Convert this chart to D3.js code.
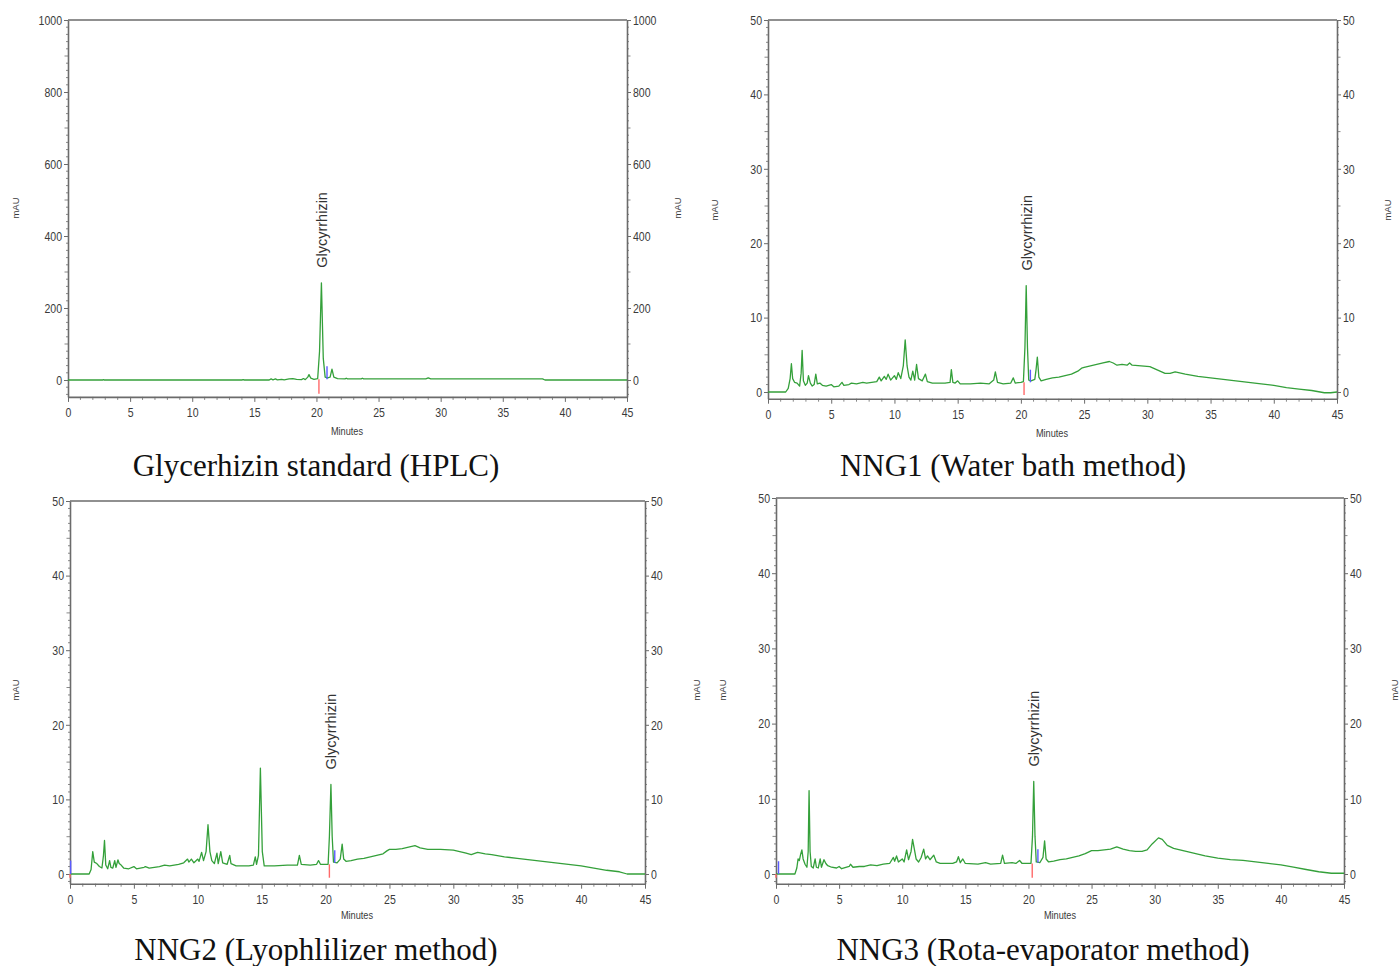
<!DOCTYPE html>
<html><head><meta charset="utf-8">
<script src="https://cdn.jsdelivr.net/npm/d3@7"></script>
<style>body{margin:0;background:#fff} svg{display:block}</style>
</head><body>
<svg id="c" width="1400" height="966"></svg>
<script>
// ---------- DATA ----------
const xTicks = [0,5,10,15,20,25,30,35,40,45];
const stdYTicks = [0,200,400,600,800,1000];
const sampleYTicks = [0,10,20,30,40,50];
const captions = ["Glycerhizin standard (HPLC)","NNG1 (Water bath method)","NNG2 (Lyophlilizer method)","NNG3 (Rota-evaporator method)"];
const peakLabel = "Glycyrrhizin";
const xLabel = "Minutes";
const yLabel = "mAU";

// [minutes, mAU]
const stdTrace = [[0,0],[2.8,0],[2.85,0.8],[2.9,0],[14,0],[14.1,0.8],[14.2,0],[16.2,0],[16.35,3],[16.5,0.5],[16.7,3],[16.85,0.5],[17.2,2],[17.4,0.5],[17.8,3],[18.1,4],[18.4,2],[18.8,1],[18.95,4],[19.1,1],[19.3,8],[19.4,15],[19.55,5],[19.8,2],[20.1,4],[20.25,80],[20.4,270],[20.55,60],[20.7,8],[20.9,6],[21.1,8],[21.25,30],[21.4,8],[21.7,4],[22.3,3],[22.4,5],[22.5,3],[23.6,3],[23.7,5],[23.8,3],[28.8,3],[29.0,6],[29.2,3],[38.2,3],[38.4,0],[45,0]];

const nng1Trace = [[0,0],[1.4,0],[1.6,0.5],[1.75,1.8],[1.85,3.8],[1.95,1.8],[2.1,1.3],[2.3,1.2],[2.5,0.8],[2.62,2.5],[2.7,5.6],[2.8,1.5],[2.95,0.9],[3.1,1.2],[3.2,2.2],[3.35,1.2],[3.5,0.8],[3.65,1.0],[3.78,2.4],[3.9,1.1],[4.1,1.2],[4.3,0.9],[4.6,0.8],[5.0,1.0],[5.2,0.7],[5.6,0.8],[5.85,1.3],[6.0,0.9],[6.4,1.0],[6.6,1.2],[7.0,1.1],[7.5,1.3],[7.8,1.2],[8.2,1.3],[8.6,1.4],[8.8,2.0],[8.95,1.5],[9.2,2.1],[9.35,1.7],[9.5,2.4],[9.7,1.6],[10.0,2.2],[10.15,1.7],[10.3,2.6],[10.5,1.8],[10.7,3.5],[10.85,7.0],[11.0,3.5],[11.15,2.0],[11.3,1.6],[11.45,2.8],[11.6,1.6],[11.75,3.7],[11.9,1.8],[12.2,1.5],[12.45,2.4],[12.6,1.4],[13.0,1.2],[14.0,1.2],[14.4,1.3],[14.5,3.0],[14.62,1.3],[14.8,1.2],[15,1.5],[15.2,1.1],[16,1.1],[16.8,1.2],[17.5,1.1],[17.85,1.6],[17.98,2.7],[18.15,1.3],[18.6,1.1],[19.2,1.2],[19.4,1.9],[19.55,1.2],[20.0,1.3],[20.2,1.4],[20.32,6],[20.42,14.3],[20.52,6],[20.62,1.6],[20.8,1.5],[21.1,1.7],[21.2,3.0],[21.3,4.7],[21.42,2.0],[21.6,1.5],[22,1.7],[22.5,1.9],[23,2.0],[23.5,2.2],[24,2.4],[24.5,2.8],[24.8,3.2],[25,3.3],[25.5,3.5],[26,3.7],[26.5,3.9],[27,4.1],[27.3,3.9],[27.6,3.6],[28,3.7],[28.4,3.6],[28.6,3.9],[28.8,3.6],[29.5,3.5],[30.2,3.4],[30.6,3.1],[31,2.8],[31.4,2.5],[31.8,2.5],[32.2,2.7],[33,2.4],[34,2.1],[35,1.9],[36,1.7],[37,1.5],[38,1.3],[39,1.1],[40,0.9],[41,0.6],[42,0.4],[43,0.2],[44,-0.1],[44.5,-0.1],[45,0]];

const nng2Trace = [[0,0],[1.5,0],[1.65,0.6],[1.78,3.0],[1.9,1.6],[2.1,1.4],[2.3,1.0],[2.5,0.8],[2.62,2.5],[2.7,4.5],[2.8,1.2],[2.95,0.7],[3.1,1.8],[3.2,0.9],[3.35,0.8],[3.5,1.8],[3.6,0.9],[3.75,1.9],[3.85,1.4],[4.0,1.2],[4.2,0.8],[4.6,0.7],[5.0,1.0],[5.2,0.7],[5.8,0.9],[5.9,1.0],[6.2,0.8],[6.6,0.9],[7.0,1.0],[7.4,1.2],[7.8,1.1],[8.5,1.3],[8.9,1.5],[9.2,2.0],[9.3,1.6],[9.5,2.0],[9.7,1.5],[10.0,2.0],[10.1,1.7],[10.3,2.9],[10.45,1.8],[10.65,3.0],[10.8,6.6],[10.95,3.0],[11.1,1.8],[11.3,1.4],[11.5,2.8],[11.6,1.4],[11.8,3.0],[11.95,1.5],[12.3,1.3],[12.5,2.5],[12.6,1.4],[13,1.1],[14,1.1],[14.35,1.2],[14.5,2.3],[14.6,1.3],[14.75,2.5],[14.9,14.2],[15.05,3.0],[15.2,1.1],[16,1.1],[17,1.2],[17.8,1.2],[17.95,2.5],[18.1,1.3],[18.8,1.2],[19.3,1.3],[19.45,1.8],[19.6,1.3],[20.0,1.3],[20.2,1.3],[20.3,5.0],[20.42,12.0],[20.52,5.0],[20.62,1.6],[20.9,1.5],[21.15,2.0],[21.3,4.0],[21.42,2.0],[21.6,1.7],[22,1.8],[22.5,2.0],[23,2.1],[23.5,2.3],[24,2.5],[24.5,2.7],[24.8,3.1],[25,3.3],[25.5,3.3],[26,3.4],[26.5,3.6],[27,3.8],[27.4,3.5],[28,3.3],[29,3.3],[30,3.2],[30.5,3.0],[31,2.8],[31.4,2.6],[31.9,2.9],[32.5,2.7],[33,2.6],[34,2.3],[35,2.1],[36,1.9],[37,1.7],[38,1.5],[39,1.3],[40,1.1],[41,0.8],[42,0.5],[43,0.3],[43.6,0],[45,0]];

const nng3Trace = [[0,0],[1.5,0],[1.65,0.8],[1.75,2.0],[1.85,1.8],[1.95,2.6],[2.05,3.2],[2.15,2.0],[2.3,1.3],[2.45,0.9],[2.55,3.0],[2.62,11.1],[2.7,3.0],[2.8,1.0],[2.95,0.8],[3.1,2.0],[3.2,0.9],[3.35,0.8],[3.5,2.0],[3.6,0.9],[3.8,1.9],[3.95,1.4],[4.1,1.1],[4.4,0.9],[4.8,0.8],[5.0,1.0],[5.2,0.7],[5.8,1.0],[5.9,1.3],[6.1,0.9],[6.6,1.0],[7.0,1.0],[7.5,1.2],[8.0,1.1],[8.5,1.3],[9.0,1.4],[9.3,2.2],[9.4,1.7],[9.55,2.4],[9.7,1.6],[10.0,2.0],[10.15,1.6],[10.35,3.2],[10.5,1.9],[10.7,3.0],[10.82,4.6],[10.95,3.4],[11.1,2.0],[11.3,1.6],[11.5,2.2],[11.7,3.3],[11.85,2.0],[12.0,2.4],[12.2,1.9],[12.5,2.5],[12.7,1.6],[13,1.4],[14,1.4],[14.3,1.6],[14.45,2.3],[14.6,1.5],[14.8,2.0],[15,1.4],[16,1.3],[16.6,1.5],[17,1.3],[17.8,1.4],[17.95,2.5],[18.1,1.4],[18.7,1.5],[19.0,1.4],[19.3,1.8],[19.5,1.4],[20.0,1.4],[20.2,1.4],[20.32,5.0],[20.42,12.3],[20.52,5.0],[20.62,1.6],[20.9,1.5],[21.15,2.2],[21.28,4.4],[21.4,2.0],[21.6,1.6],[22,1.7],[22.5,1.9],[23,2.0],[23.5,2.2],[24,2.4],[24.5,2.7],[25,3.1],[25.5,3.1],[26,3.2],[26.5,3.3],[27,3.6],[27.5,3.3],[28,3.1],[28.5,3.0],[29,3.0],[29.4,3.2],[29.8,4.0],[30.3,4.8],[30.6,4.6],[31,3.8],[31.5,3.4],[32,3.2],[33,2.8],[34,2.4],[35,2.1],[36,1.9],[37,1.8],[38,1.6],[39,1.4],[40,1.2],[41,0.9],[42,0.6],[43,0.3],[44,0.1],[45,0.1]];

// integration markers: [minutes, from mAU, to mAU, kind]
const stdMarkers  = [[20.2,-38,2,"start"],[20.85,2,38,"end"]];
const nng1Markers = [[20.25,-0.4,1.3,"start"],[20.75,1.3,3.0,"end"]];
const nng2Markers = [[0.0,-0.5,0,"start"],[0.05,0,1.8,"end"],[20.3,-0.5,1.3,"start"],[20.72,1.5,3.2,"end"]];
const nng3Markers = [[0.0,-0.5,0,"start"],[0.2,0,1.7,"end"],[20.3,-0.5,1.4,"start"],[20.75,1.5,3.3,"end"]];

// apex used to place the peak label
const stdApex = [20.4,270], nng1Apex = [20.42,14.3], nng2Apex = [20.42,12.0], nng3Apex = [20.42,12.3];

// ---------- LAYOUT ----------
const panels = [
  {trace:stdTrace, markers:stdMarkers, apex:stdApex, caption:captions[0], yTicks:stdYTicks, yMax:1000, yMin:-47, minor:20, mid:100,
   left:68, right:627, top:20, zero:380, capX:316, capY:476, mL:[16,208], mR:[678,208], minX:347, minY:435},
  {trace:nng1Trace, markers:nng1Markers, apex:nng1Apex, caption:captions[1], yTicks:sampleYTicks, yMax:50, yMin:-0.9, minor:1, mid:5,
   left:768, right:1337, top:20, zero:392, capX:1013, capY:476, mL:[715,210], mR:[1388,210], minX:1052, minY:437},
  {trace:nng2Trace, markers:nng2Markers, apex:nng2Apex, caption:captions[2], yTicks:sampleYTicks, yMax:50, yMin:-1.3, minor:1, mid:5,
   left:70, right:645, top:501, zero:874, capX:316, capY:960, mL:[16,690], mR:[697,690], minX:357, minY:919},
  {trace:nng3Trace, markers:nng3Markers, apex:nng3Apex, caption:captions[3], yTicks:sampleYTicks, yMax:50, yMin:-1.3, minor:1, mid:5,
   left:776, right:1344, top:498, zero:874, capX:1043, capY:960, mL:[723,690], mR:[1395,690], minX:1060, minY:919}
];

const axisColor = "#6b6b6b", textColor = "#3a3a3a", traceColor = "#34a03a";
const markerColor = {start:"#ff6a6a", end:"#5b5bff"};
const tickFont = "'Liberation Sans Narrow','Arial Narrow','Liberation Sans',sans-serif";

const svg = d3.select("#c");

function condense(sel, f){
  sel.each(function(){
    const w = this.getComputedTextLength();
    d3.select(this).attr("textLength", w*f).attr("lengthAdjust","spacingAndGlyphs");
  });
}

panels.forEach(p => {
  const x = d3.scaleLinear().domain([0,45]).range([p.left,p.right]);
  const y = d3.scaleLinear().domain([0,p.yMax]).range([p.zero,p.top]);
  const bottom = y(p.yMin);
  const g = svg.append("g");

  const minorY = d3.range(Math.ceil(p.yMin/p.minor)*p.minor, p.yMax+1e-9, p.minor)
      .map(v => +v.toFixed(6)).filter(v => !p.yTicks.includes(v));
  const minorX = d3.range(0,46,1).filter(v => !xTicks.includes(v));

  function styleAxis(sel){
    sel.select(".domain").attr("stroke",axisColor).attr("stroke-width",1.6);
    sel.selectAll(".tick line").attr("stroke",axisColor).attr("stroke-width",1);
    sel.selectAll(".tick text").attr("fill",textColor).style("font-family",tickFont).style("font-size","13.5px");
    condense(sel.selectAll(".tick text"), 0.78);
  }
  const fmt = d3.format("d");

  // Left axis
  const yl = g.append("g").attr("transform",`translate(${p.left},0)`);
  const ySc = y.copy().domain([p.yMin,p.yMax]).range([bottom,p.top]);
  yl.call(d3.axisLeft(ySc).tickValues(p.yTicks).tickFormat(fmt).tickSize(4).tickSizeOuter(0).tickPadding(2));
  styleAxis(yl);
  yl.append("g").selectAll("line").data(minorY).join("line")
    .attr("x1",0).attr("x2",d => (Math.abs(d % p.mid) < 1e-9) ? -3.5 : -2)
    .attr("y1",d=>y(d)).attr("y2",d=>y(d)).attr("stroke",axisColor).attr("stroke-width",0.8);

  // Right axis
  const yr = g.append("g").attr("transform",`translate(${p.right},0)`);
  yr.call(d3.axisRight(ySc).tickValues(p.yTicks).tickFormat(fmt).tickSize(4).tickSizeOuter(0).tickPadding(2));
  styleAxis(yr);
  yr.append("g").selectAll("line").data(minorY).join("line")
    .attr("x1",0).attr("x2",d => (Math.abs(d % p.mid) < 1e-9) ? 3.5 : 2)
    .attr("y1",d=>y(d)).attr("y2",d=>y(d)).attr("stroke",axisColor).attr("stroke-width",0.8);

  // Bottom axis
  const xb = g.append("g").attr("transform",`translate(0,${bottom})`);
  xb.call(d3.axisBottom(x).tickValues(xTicks).tickFormat(fmt).tickSize(5).tickSizeOuter(0).tickPadding(6));
  styleAxis(xb);
  xb.append("g").selectAll("line").data(minorX).join("line")
    .attr("x1",d=>x(d)).attr("x2",d=>x(d)).attr("y1",0).attr("y2",3)
    .attr("stroke",axisColor).attr("stroke-width",0.8);

  // Top frame
  g.append("line").attr("x1",p.left).attr("x2",p.right).attr("y1",p.top).attr("y2",p.top)
    .attr("stroke",axisColor).attr("stroke-width",1.6);

  // Trace
  const line = d3.line().x(d=>x(d[0])).y(d=>y(d[1]));
  g.append("path").datum(p.trace).attr("d",line).attr("fill","none")
    .attr("stroke",traceColor).attr("stroke-width",1.3).attr("stroke-linejoin","round");

  // Markers
  g.selectAll(".mk").data(p.markers).join("line")
    .attr("x1",d=>x(d[0])).attr("x2",d=>x(d[0])).attr("y1",d=>y(d[1])).attr("y2",d=>y(d[2]))
    .attr("stroke",d=>markerColor[d[3]]).attr("stroke-width",1.4);

  // Peak label
  const ax = x(p.apex[0]) + 5.5, ay = y(p.apex[1]) - 15;
  g.append("text").attr("transform",`translate(${ax},${ay}) rotate(-90)`)
    .attr("text-anchor","start").attr("fill","#333")
    .style("font-family","'Liberation Sans',Arial,sans-serif").style("font-size","14.5px")
    .text(peakLabel);

  // Axis titles
  const mt = g.append("text").attr("x",p.minX).attr("y",p.minY).attr("text-anchor","middle").attr("fill",textColor)
    .style("font-family",tickFont).style("font-size","11.5px").text(xLabel);
  condense(mt, 0.8);
  [p.mL,p.mR].forEach(pos => {
    g.append("text").attr("transform",`translate(${pos[0]+3},${pos[1]}) rotate(-90)`)
      .attr("text-anchor","middle").attr("fill",textColor)
      .style("font-family",tickFont).style("font-size","9.5px").text(yLabel);
  });

  // Caption
  g.append("text").attr("x",p.capX).attr("y",p.capY).attr("text-anchor","middle").attr("fill","#111")
    .style("font-family","'Liberation Serif','Times New Roman',serif").style("font-size","31px").text(p.caption);
});
</script>
</body></html>
